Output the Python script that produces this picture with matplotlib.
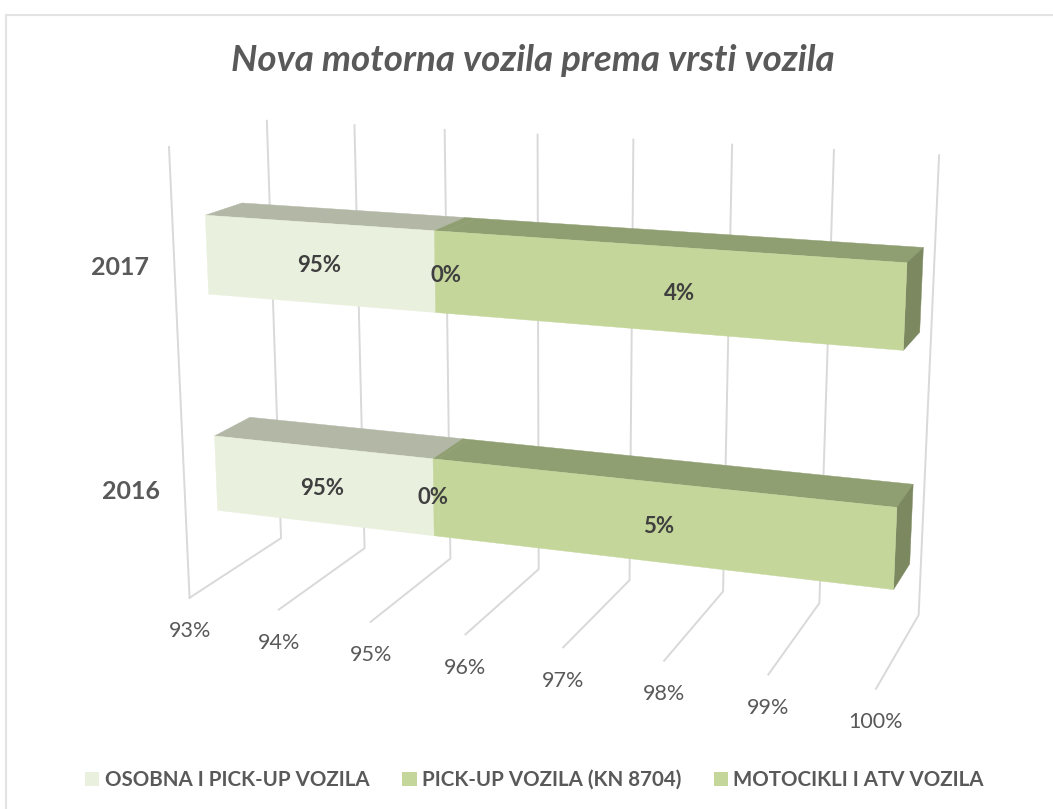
import numpy as np
import matplotlib
matplotlib.use("Agg")
import matplotlib.pyplot as plt
from matplotlib.patches import Patch, Polygon

plt.rcParams["font.family"] = ["Lato", "DejaVu Sans"]

# Data (share of new vehicles, %)
years = ["2016", "2017"]
series = ["OSOBNA I PICK-UP VOZILA", "PICK-UP VOZILA (KN 8704)", "MOTOCIKLI I ATV VOZILA"]
osobna = [95.41, 95.46]
pickup = [0.05, 0.12]
motocikli = [4.54, 4.42]
ticks = [93, 94, 95, 96, 97, 98, 99, 100]
title = "Nova motorna vozila prema vrsti vozila"

# Colours: front, top and end faces of the 3D bars
FRONT = ["#E9F0DE", "#C4D69A", "#C4D69A"]
TOP = ["#B2B7A6", "#909F72", "#909F72"]
END = "#7C8860"
GRID = "#D9D9D9"
TEXT = "#595959"
LABEL = "#3F3F3F"

# Excel-like perspective: world (value, depth, height) matched to picture pixels
world = [(93, 0, 0), (94, 0, 0), (95, 0, 0), (100, 0, 0),
         (93, 1, 0), (94, 1, 0), (95, 1, 0), (99, 1, 0), (100, 1, 0),
         (93, 0, 1), (93, 1, 1), (94, 1, 1), (95, 1, 1), (99, 1, 1), (100, 1, 1)]
pixels = [(190, 597), (278, 610), (371, 622), (876, 689),
          (281, 538), (364, 549), (451, 558), (820, 603), (918, 615),
          (169, 147), (267, 121), (354, 125), (445, 130), (834, 150), (939, 155)]


def fit_camera(world, pixels):
    rows = []
    for (a, b, c), (x, y) in zip(world, pixels):
        a = (a - 93) / 7
        rows.append([a, b, c, 1, 0, 0, 0, 0, -x * a, -x * b, -x * c, -x])
        rows.append([0, 0, 0, 0, a, b, c, 1, -y * a, -y * b, -y * c, -y])
    return np.linalg.svd(np.array(rows, dtype=float))[2][-1].reshape(3, 4)


camera = fit_camera(world, pixels)


def project(value, depth, height):
    p = camera @ np.array([(value - 93) / 7, depth, height, 1.0])
    return p[0] / p[2], p[1] / p[2]


def face(ax, points, color, z=3):
    ax.add_patch(Polygon([project(*p) for p in points], closed=True, facecolor=color,
                         edgecolor=color, linewidth=0.3, zorder=z))


fig = plt.figure(figsize=(10.53, 8.09), dpi=100)
ax = fig.add_axes([0, 0, 1, 1])
ax.set_xlim(0, 1053)
ax.set_ylim(809, 0)
ax.axis("off")

# Chart frame
ax.plot([6, 6, 1053], [809, 15, 15], color="#E3E3E3", lw=1.5, zorder=1)

# Back wall, floor and left wall gridlines
for t in ticks:
    ax.plot(*zip(project(t, 1, 1), project(t, 1, 0), project(t, 0, 0)), color=GRID, lw=1.4, zorder=2)
    x, y = project(t, 0, 0)
    ax.text(x, y + 33.5, f"{t}%", ha="center", va="center", fontsize=15.5, color=TEXT)
ax.plot(*zip(project(93, 0, 1), project(93, 0, 0)), color=GRID, lw=1.4, zorder=2)

# Stacked 3D bars
d0, d1 = 0.32, 0.70
bar_low = [0.160, 0.657]
bar_high = [0.334, 0.832]
label_dx = [[-1, -3, 0], [0, 5, 12]]
label_dy = [[3, 0, 4], [2, 3, 4]]
for i, year in enumerate(years):
    lo, hi = bar_low[i], bar_high[i]
    start = 93
    edges = np.cumsum([osobna[i], pickup[i], motocikli[i]])
    for j, (end, val) in enumerate(zip(edges, [osobna[i], pickup[i], motocikli[i]])):
        end = min(end, 100)
        face(ax, [(start, d0, hi), (end, d0, hi), (end, d1, hi), (start, d1, hi)], TOP[j])
        face(ax, [(start, d0, lo), (end, d0, lo), (end, d0, hi), (start, d0, hi)], FRONT[j], z=4)
        x, y = project((start + end) / 2, d0, (lo + hi) / 2)
        ax.text(x + label_dx[i][j], y + label_dy[i][j], f"{val:.0f}%", ha="center", va="center",
                fontsize=16, fontweight="bold", color=LABEL, zorder=6)
        start = end
    face(ax, [(100, d0, lo), (100, d1, lo), (100, d1, hi), (100, d0, hi)], END)
    x, y = project(93, 0, (lo + hi) / 2)
    ax.text(x - 54, y + 1, year, ha="center", va="center", fontsize=18, fontweight="bold", color=TEXT)

ax.text(533, 60, title, ha="center", va="center", fontsize=26.5, fontweight="bold",
        fontstyle="italic", color=TEXT)

handles = [Patch(facecolor=c, edgecolor="none") for c in FRONT]
ax.legend(handles, series, loc="center", bbox_to_anchor=(534.5 / 1053, 1 - 780 / 809), ncol=3, frameon=False,
          labelcolor=TEXT, prop={"weight": "bold", "size": 14.8},
          handlelength=0.7, handleheight=0.7, handletextpad=0.25, columnspacing=1.6)

fig.savefig("out.png", dpi=100)
